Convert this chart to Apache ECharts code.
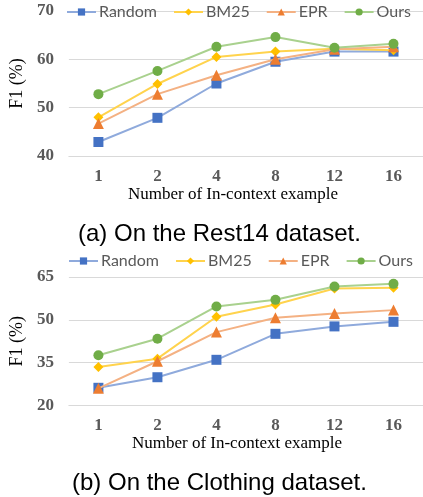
<!DOCTYPE html>
<html><head><meta charset="utf-8">
<script src="https://cdn.jsdelivr.net/npm/echarts@6/dist/echarts.min.js"></script>
<style>html,body{margin:0;padding:0;background:#fff}#c{width:423px;height:497px}</style>
</head><body><div id="c"></div>
<script>
const categories = ['1','2','4','8','12','16'];
const seriesNames = ['Random','BM25','EPR','Ours'];
// (a) Rest14
const restRandom = [42.9, 47.9, 55.0, 59.5, 61.6, 61.6];
const restBM25   = [48.0, 54.9, 60.5, 61.6, 62.2, 61.9];
const restEPR    = [46.7, 52.8, 56.7, 60.0, 62.1, 62.6];
const restOurs   = [52.8, 57.6, 62.6, 64.6, 62.4, 63.2];
// (b) Clothing
const clothRandom = [26.2, 29.9, 36.0, 45.1, 47.7, 49.3];
const clothBM25   = [33.5, 36.4, 51.1, 55.4, 61.0, 61.2];
const clothEPR    = [26.0, 35.5, 45.7, 50.7, 52.2, 53.4];
const clothOurs   = [37.6, 43.4, 54.7, 57.0, 61.7, 62.6];
const restTicks = [40, 50, 60, 70];
const clothTicks = [20, 35, 50, 65];

const markerColors = ['#4472C4','#FFC000','#ED7D31','#70AD47'];
const lineColors = ['#8FAADC','#FFD34D','#F4B183','#A9D18E'];
const symbols = ['rect','diamond','triangle','circle'];
const symbolSizes = [10, 10, 11, 10];
const gridColor = '#D9D9D9';
const labelColor = '#595959';
const serif = '"Liberation Serif","DejaVu Serif",serif';

function mkSeries(data, idx){
  return data.map((d,i)=>({
    name: seriesNames[i], type:'line', xAxisIndex:idx, yAxisIndex:idx, data:d,
    symbol: symbols[i], symbolSize: symbolSizes[i],
    itemStyle:{color:markerColors[i]},
    lineStyle:{color:lineColors[i], width:2},
    z: 2 + i, animation:false
  }));
}
function xAx(idx, shift){
  return {type:'category', gridIndex:idx, data:categories, boundaryGap:true,
    axisLine:{lineStyle:{color:gridColor}}, axisTick:{show:false},
    axisLabel:{color:labelColor, fontFamily:serif, fontWeight:'bold', fontSize:17, margin:12},
    name:'Number of In-context example', nameLocation:'middle', nameGap:30,
    nameTextStyle:{color:'#000', fontFamily:serif, fontSize:17, padding:[0, shift*2, 0, 0]}};
}
function yAx(idx, ticks){
  return {type:'value', gridIndex:idx, min:ticks[0], max:ticks[ticks.length-1], interval:ticks[1]-ticks[0],
    axisLine:{show:false}, axisTick:{show:false},
    splitLine:{lineStyle:{color:gridColor, width:1}},
    axisLabel:{color:labelColor, fontFamily:serif, fontWeight:'bold', fontSize:17, margin:15},
    name:'F1 (%)', nameLocation:'middle', nameRotate:90, nameGap:42,
    nameTextStyle:{color:'#000', fontFamily:serif, fontSize:18}};
}
function legend(top, left){
  return {top:top, left:left, itemWidth:29, itemHeight:9, itemGap:16,
    data:seriesNames, selectedMode:false,
    textStyle:{color:labelColor, fontFamily:'Lato, "Open Sans", sans-serif', fontSize:16, padding:[0,0,0,-2]}};
}
const chart = echarts.init(document.getElementById('c'), null, {renderer:'canvas'});
chart.setOption({
  animation:false,
  grid:[{left:60, top:11, width:364, height:145}, {left:62, top:277, width:365, height:128.5}],
  xAxis:[xAx(0, 13), xAx(1, 9)],
  yAxis:[yAx(0, restTicks), yAx(1, clothTicks)],
  legend:[legend(-1, 61), legend(248, 63)],
  title:[
    {text:'(a) On the Rest14 dataset.', left:73, top:217, textStyle:{fontFamily:'"Liberation Sans",Arial,sans-serif', fontWeight:'normal', fontSize:24, color:'#000'}},
    {text:'(b) On the Clothing dataset.', left:67, top:466, textStyle:{fontFamily:'"Liberation Sans",Arial,sans-serif', fontWeight:'normal', fontSize:24, color:'#000'}}
  ],
  series:[...mkSeries([restRandom,restBM25,restEPR,restOurs],0), ...mkSeries([clothRandom,clothBM25,clothEPR,clothOurs],1)]
});
</script></body></html>
